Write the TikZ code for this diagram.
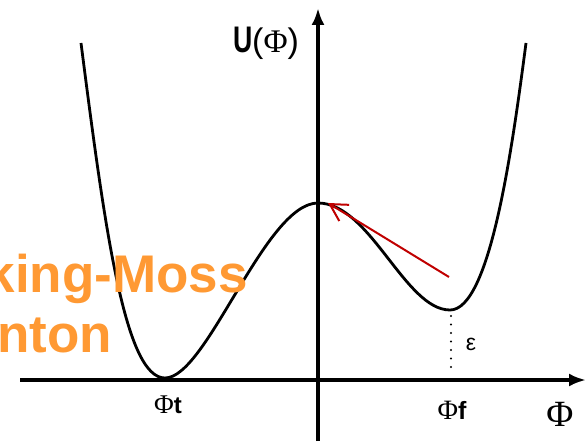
\documentclass[tikz,border=0pt]{standalone}
\usepackage{fontspec}
\setmainfont{Liberation Serif}
\setsansfont{Liberation Sans}
\usetikzlibrary{arrows.meta}
\definecolor{hmorange}{RGB}{255,153,51}
\definecolor{kickred}{RGB}{192,0,0}

\begin{document}
\begin{tikzpicture}[x=1pt, y=-1pt,
  axis/.style={line width=4.5pt, -{Latex[length=17pt,width=13pt]}},
  pot/.style={line width=2.8pt},
  lab/.style={inner sep=0pt, font=\fontsize{27}{30}\selectfont},
  kick/.style={draw=kickred, line width=2pt, -{Straight Barb[length=17pt,width=19pt]}},
  gap/.style={line width=2.2pt, line cap=round, dash pattern=on 0pt off 8.5pt},
  title/.style={inner sep=0pt, text=hmorange, font=\sffamily\bfseries\fontsize{53}{60}\selectfont}
]
\useasboundingbox (0,0) rectangle (588,441);

% axes
\coordinate (xl) at (20,380);
\coordinate (xr) at (586,380);
\coordinate (yb) at (318,441);
\coordinate (yt) at (318,8);
\draw[axis] (xl) -- (xr);
\draw[axis] (yb) -- (yt);

% potential
\coordinate (tmin) at (165,378);
\coordinate (top) at (318,203);
\coordinate (fmin) at (450,310);
\draw[pot] (81,43) .. controls (105,230) and (125,378) .. (tmin)
  .. controls (207,378) and (265,203) .. (top)
  .. controls (370,203) and (405,310) .. (fmin)
  .. controls (490,310) and (512,150) .. (526,43);

% energy gap
\coordinate (fgap) at (451,316);
\coordinate (fbase) at (451,372);
\draw[gap] (fgap) -- (fbase);
\node[lab, font=\sffamily\fontsize{23}{26}\selectfont] (eps) at (471,344) {ε};

% kick over the barrier
\coordinate (kickstart) at (449,277);
\coordinate (peak) at (328,203);
\draw[kick] (kickstart) -- (peak);

% labels
\node[lab, anchor=base] (ulab) at (266,53)
  {{\sffamily\bfseries\fontsize{37}{40}\selectfont\scalebox{0.72}[1]{U}}{\sffamily\fontsize{34}{40}\selectfont(}{\fontsize{33}{40}\selectfont Φ}{\sffamily\fontsize{34}{40}\selectfont)}};
\node[lab] (phit) at (168,405) {Φ{\sffamily\bfseries\fontsize{24}{26}\selectfont t}};
\node[lab, font=\fontsize{28}{30}\selectfont] (phif) at (452,410) {Φ{\sffamily\bfseries\fontsize{25}{26}\selectfont f}};
\node[lab, font=\fontsize{37}{40}\selectfont] (phi) at (560,414) {Φ};

\node[title, anchor=base east] (hm1) at (248,292) {king-Moss};
\node[title, anchor=base east] (hm2) at (112,352) {nton};
\end{tikzpicture}
\end{document}
